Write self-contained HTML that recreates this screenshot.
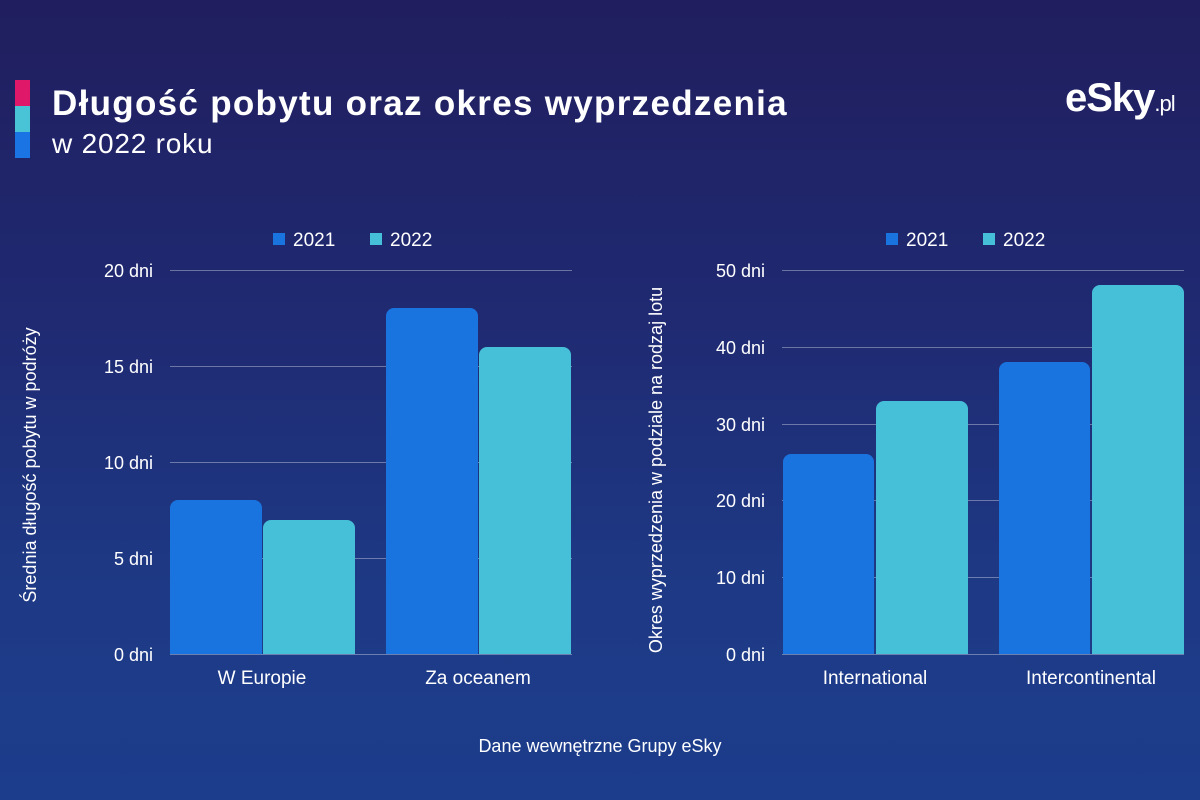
<!DOCTYPE html>
<html><head><meta charset="utf-8"><style>
body{margin:0;width:1200px;height:800px;overflow:hidden;font-family:"Liberation Sans","DejaVu Sans",sans-serif;}
.bg{position:absolute;inset:0;background:linear-gradient(180deg,#201e5e 0%,#1f2a72 40%,#1e3a86 75%,#1c3d8c 100%);}
.t{position:absolute;color:#fff;white-space:nowrap}
</style></head><body>
<div class="bg"></div>
<div style="position:absolute;left:15px;top:80px;width:15px;height:26px;background:#e0186a"></div>
<div style="position:absolute;left:15px;top:106px;width:15px;height:26px;background:#49c3d6"></div>
<div style="position:absolute;left:15px;top:132px;width:15px;height:26px;background:#1a74e4"></div>
<div class="t" style="left:52px;top:84px;font-size:35px;font-weight:bold;letter-spacing:1.3px">Długość pobytu oraz okres wyprzedzenia</div>
<div class="t" style="left:52px;top:128px;font-size:28px;letter-spacing:0.8px">w 2022 roku</div>
<div class="t" style="left:1065px;top:76px;font-size:40px;font-weight:bold;letter-spacing:-1px">eSky<span style="font-size:22px;font-weight:normal">.pl</span></div>
<svg width="1200" height="800" style="position:absolute;left:0;top:0" font-family="Liberation Sans, sans-serif" fill="#fff">
<g stroke="rgba(255,255,255,0.35)" stroke-width="1">
<line x1="170" x2="572" y1="270.5" y2="270.5"/><line x1="170" x2="572" y1="366.5" y2="366.5"/><line x1="170" x2="572" y1="462.5" y2="462.5"/><line x1="170" x2="572" y1="558.5" y2="558.5"/><line x1="170" x2="572" y1="654.5" y2="654.5"/>
<line x1="782" x2="1184" y1="270.5" y2="270.5"/><line x1="782" x2="1184" y1="347.5" y2="347.5"/><line x1="782" x2="1184" y1="424.5" y2="424.5"/><line x1="782" x2="1184" y1="500.5" y2="500.5"/><line x1="782" x2="1184" y1="577.5" y2="577.5"/><line x1="782" x2="1184" y1="654.5" y2="654.5"/>
</g>
<g font-size="18" text-anchor="end">
<text x="153" y="277">20 dni</text><text x="153" y="373">15 dni</text><text x="153" y="469">10 dni</text><text x="153" y="565">5 dni</text><text x="153" y="661">0 dni</text>
<text x="765" y="277">50 dni</text><text x="765" y="354">40 dni</text><text x="765" y="431">30 dni</text><text x="765" y="507">20 dni</text><text x="765" y="584">10 dni</text><text x="765" y="661">0 dni</text>
</g>
<g fill="#1a74e0">
<path d="M170 654V508a8 8 0 0 1 8-8h76a8 8 0 0 1 8 8V654Z"/>
<path d="M386 654V316a8 8 0 0 1 8-8h76a8 8 0 0 1 8 8V654Z"/>
<path d="M783 654V462a8 8 0 0 1 8-8h75a8 8 0 0 1 8 8V654Z"/>
<path d="M999 654V370a8 8 0 0 1 8-8h75a8 8 0 0 1 8 8V654Z"/>
</g>
<g fill="#46c0d8">
<path d="M263 654V528a8 8 0 0 1 8-8h76a8 8 0 0 1 8 8V654Z"/>
<path d="M479 654V355a8 8 0 0 1 8-8h76a8 8 0 0 1 8 8V654Z"/>
<path d="M876 654V409a8 8 0 0 1 8-8h76a8 8 0 0 1 8 8V654Z"/>
<path d="M1092 654V293a8 8 0 0 1 8-8h76a8 8 0 0 1 8 8V654Z"/>
</g>
<g font-size="19" text-anchor="middle">
<text x="262" y="684">W Europie</text><text x="478" y="684">Za oceanem</text>
<text x="875" y="684">International</text><text x="1091" y="684">Intercontinental</text>
<text x="600" y="752" font-size="18">Dane wewnętrzne Grupy eSky</text>
</g>
<g font-size="19">
<rect x="273" y="233" width="12" height="12" fill="#1a74e0"/><text x="293" y="246">2021</text>
<rect x="370" y="233" width="12" height="12" fill="#46c0d8"/><text x="390" y="246">2022</text>
<rect x="886" y="233" width="12" height="12" fill="#1a74e0"/><text x="906" y="246">2021</text>
<rect x="983" y="233" width="12" height="12" fill="#46c0d8"/><text x="1003" y="246">2022</text>
</g>
<text font-size="18" transform="translate(36,465) rotate(-90)" text-anchor="middle">Średnia długość pobytu  w podróży</text>
<text font-size="18" transform="translate(662,470) rotate(-90)" text-anchor="middle">Okres wyprzedzenia w podziale na rodzaj lotu</text>
</svg>
</body></html>
